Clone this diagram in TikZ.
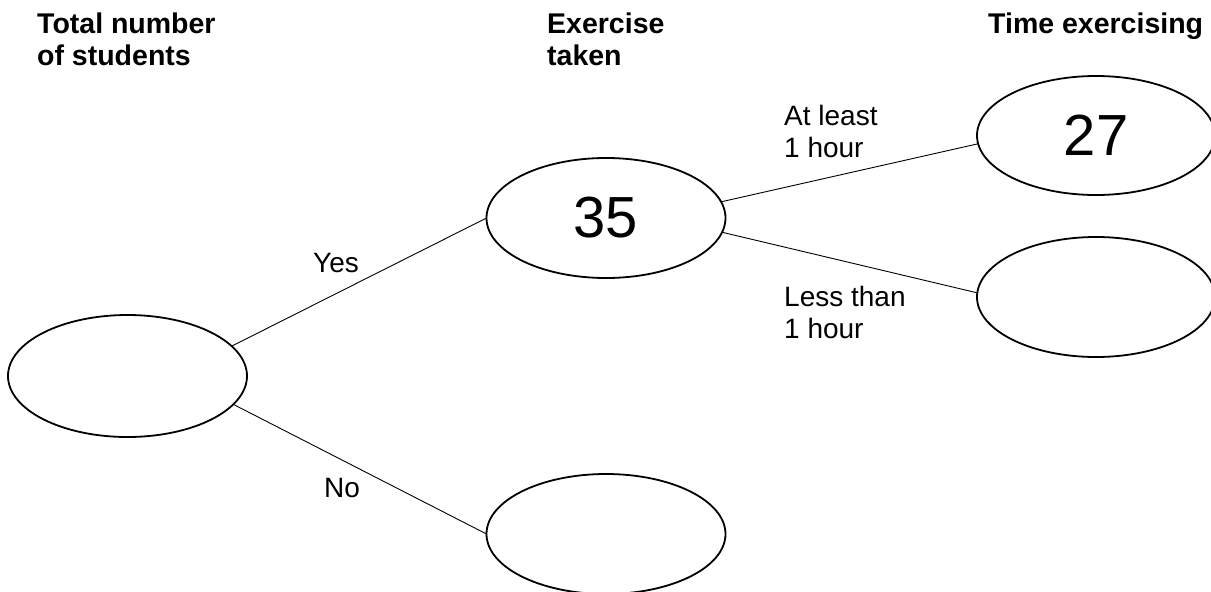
\documentclass[tikz,border=0pt]{standalone}
\usepackage{fontspec}
\setmainfont{Liberation Sans}
\usetikzlibrary{shapes.geometric}
\tikzset{
  bubble/.style={ellipse, draw, line width=1.8pt, inner sep=0pt, outer sep=0pt,
    minimum width=239pt, minimum height=120pt, font=\fontsize{58}{60}\selectfont},
  conn/.style={line width=0.9pt},
  heading/.style={anchor=base west, inner sep=0pt, align=left,
    font=\fontsize{28.5}{32}\selectfont\bfseries},
  lbl/.style={anchor=base west, inner sep=0pt, align=left,
    font=\fontsize{28}{32}\selectfont}
}
\begin{document}
\begin{tikzpicture}[x=1pt,y=-1pt]
\useasboundingbox (0,0) rectangle (1211,592);
\node[bubble, minimum height=122pt] (L) at (127.5,376) {};
\node[bubble] (E) at (606,218) {35};
\node[bubble] (B) at (606,534) {};
\node[bubble, minimum width=238pt, minimum height=119pt] (T) at (1096,135.5) {27};
\node[bubble, minimum width=238pt] (R) at (1096,297) {};
\draw[conn] (L.16) -- (E.west);
\draw[conn] (L.-15) -- (B.west);
\draw[conn] (E.8) -- (T.184);
\draw[conn] (E.-7) -- (R.178);
\node[heading] (h1) at (37,65) {Total number\\of students};
\node[heading] (h2) at (547,65) {Exercise\\taken};
\node[heading] (h3) at (988,33) {Time exercising};
\node[lbl] (yes) at (313,272) {Yes};
\node[lbl] (no) at (324,497) {No};
\node[lbl] (al) at (784,157) {At least\\1 hour};
\node[lbl] (lt) at (784,338) {Less than\\1 hour};
\end{tikzpicture}
\end{document}
